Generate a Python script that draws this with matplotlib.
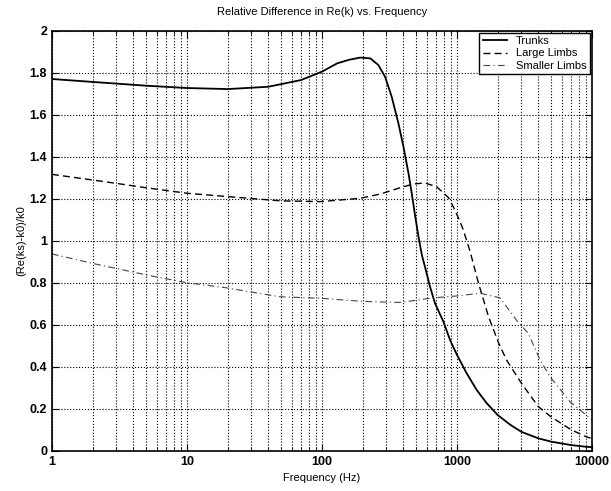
import matplotlib
matplotlib.use("Agg")
import matplotlib.pyplot as plt
from matplotlib.ticker import FixedLocator, LogLocator, NullFormatter

plt.rcParams['font.family'] = ['Liberation Sans', 'DejaVu Sans']

trunk_f = [1, 2, 5, 10, 20, 40, 70, 100, 130, 160, 192, 228, 261, 293, 328, 368,
           401, 437, 462, 489, 518, 550, 579, 631, 687, 792, 891, 1000, 1180,
           1400, 1660, 2000, 2500, 3000, 4000, 5000, 7000, 9000, 10000]
trunk_v = [1.770, 1.756, 1.738, 1.727, 1.722, 1.733, 1.765, 1.805, 1.845, 1.862,
           1.872, 1.868, 1.837, 1.781, 1.686, 1.559, 1.448, 1.321, 1.226, 1.120,
           1.020, 0.930, 0.876, 0.781, 0.702, 0.615, 0.525, 0.456, 0.368, 0.289,
           0.226, 0.170, 0.122, 0.090, 0.059, 0.043, 0.027, 0.019, 0.017]

large_f = [1, 2, 3, 5, 10, 20, 49, 97, 192, 269, 378, 475, 579, 706, 792, 864, 937,
           1022, 1100, 1180, 1248, 1443, 1712, 2038, 2326, 3000, 4000, 5000, 7000,
           9000, 10000]
large_v = [1.316, 1.289, 1.273, 1.252, 1.226, 1.210, 1.190, 1.186, 1.202, 1.222,
           1.252, 1.270, 1.275, 1.257, 1.228, 1.205, 1.162, 1.110, 1.060, 1.000,
           0.950, 0.797, 0.638, 0.511, 0.432, 0.321, 0.210, 0.160, 0.100, 0.067,
           0.058]

small_f = [1, 2, 3, 5, 10, 20, 29, 49, 97, 191, 283, 378, 668, 1000, 1479, 2081,
           2477, 2768, 3370, 4120, 4886, 6870, 10000]
small_v = [0.937, 0.892, 0.868, 0.837, 0.800, 0.775, 0.757, 0.733, 0.726, 0.712,
           0.708, 0.706, 0.728, 0.737, 0.750, 0.728, 0.662, 0.620, 0.559, 0.432,
           0.352, 0.233, 0.147]

yticks = [0, 0.2, 0.4, 0.6, 0.8, 1, 1.2, 1.4, 1.6, 1.8, 2]
ytick_labels = ['0', '0.2', '0.4', '0.6', '0.8', '1', '1.2', '1.4', '1.6', '1.8', '2']
xticks = [1, 10, 100, 1000, 10000]
xtick_labels = ['1', '10', '100', '1000', '10000']

fig = plt.figure(figsize=(6.11, 4.91), dpi=100)
ax = fig.add_axes([0.085, 0.082, 0.884, 0.8555])

ax.plot(trunk_f, trunk_v, color='black', lw=1.3, ls='-', label='Trunks')
ax.plot(large_f, large_v, color='black', lw=1.0, ls=(0, (5, 3)), label='Large Limbs')
ax.plot(small_f, small_v, color='#444444', lw=0.8, ls=(0, (6, 3, 1, 3)), label='Smaller Limbs')

ax.set_xscale('log')
ax.set_xlim(1, 10000)
ax.set_ylim(0, 2)
ax.xaxis.set_major_locator(FixedLocator(xticks))
ax.set_xticklabels(xtick_labels)
ax.xaxis.set_minor_locator(LogLocator(base=10, subs=range(2, 10)))
ax.xaxis.set_minor_formatter(NullFormatter())
ax.set_yticks(yticks)
ax.set_yticklabels(ytick_labels)

ax.grid(True, which='major', axis='both', color='black', ls=':', lw=0.8)
ax.grid(True, which='minor', axis='x', color='black', ls=':', lw=0.8)
ax.tick_params(which='both', direction='in', top=True, right=True, labelsize=9)
ax.tick_params(which='major', length=5)
ax.tick_params(which='minor', length=3)
for lab in ax.get_xticklabels() + ax.get_yticklabels():
    lab.set_fontweight('bold')
for s in ax.spines.values():
    s.set_linewidth(1.2)

ax.set_title('Relative Difference in Re(k) vs. Frequency', fontsize=8, pad=11)
ax.set_xlabel('Frequency (Hz)', fontsize=8, labelpad=4)
ax.set_ylabel('(Re(ks)-k0)/k0', fontsize=8, labelpad=2)

leg = ax.legend(loc='upper right', fontsize=8, fancybox=False, framealpha=1,
                edgecolor='black', borderaxespad=0.2, handlelength=2.2,
                labelspacing=0.2, borderpad=0.3)
leg.get_frame().set_linewidth(1.0)

fig.savefig('out.png', dpi=100)
